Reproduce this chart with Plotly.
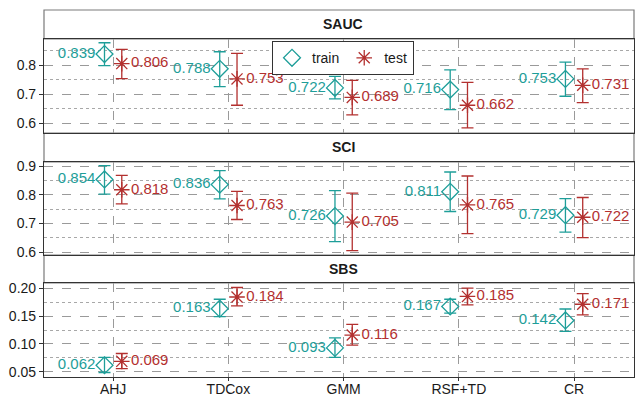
import numpy as np
import plotly.graph_objects as go

categories = ["AHJ", "TDCox", "GMM", "RSF+TD", "CR"]
metrics = ["SAUC", "SCI", "SBS"]

# SAUC
sauc_train = [0.839, 0.788, 0.722, 0.716, 0.753]
sauc_train_lo = [0.799, 0.726, 0.684, 0.647, 0.693]
sauc_train_hi = [0.878, 0.847, 0.762, 0.784, 0.811]
sauc_test = [0.806, 0.753, 0.689, 0.662, 0.731]
sauc_test_lo = [0.754, 0.662, 0.629, 0.584, 0.671]
sauc_test_hi = [0.855, 0.841, 0.748, 0.741, 0.788]

# SCI
sci_train = [0.854, 0.836, 0.726, 0.811, 0.729]
sci_train_lo = [0.803, 0.786, 0.637, 0.742, 0.670]
sci_train_hi = [0.902, 0.885, 0.815, 0.880, 0.787]
sci_test = [0.818, 0.763, 0.705, 0.765, 0.722]
sci_test_lo = [0.769, 0.714, 0.605, 0.665, 0.651]
sci_test_hi = [0.868, 0.812, 0.806, 0.866, 0.791]

# SBS
sbs_train = [0.062, 0.163, 0.093, 0.167, 0.142]
sbs_train_lo = [0.049, 0.149, 0.076, 0.155, 0.1225]
sbs_train_hi = [0.076, 0.180, 0.111, 0.180, 0.1625]
sbs_test = [0.069, 0.184, 0.116, 0.185, 0.171]
sbs_test_lo = [0.056, 0.168, 0.098, 0.170, 0.152]
sbs_test_hi = [0.083, 0.201, 0.135, 0.200, 0.190]

TEAL = "#1e9e99"
RED = "#b3302f"
FONT = "Liberation Sans"

panels = [
    ("SAUC", sauc_train, sauc_train_lo, sauc_train_hi, sauc_test, sauc_test_lo, sauc_test_hi,
     [0.566, 0.891], [0.6, 0.7, 0.8], ["0.6", "0.7", "0.8"], 0.05, 0.6),
    ("SCI", sci_train, sci_train_lo, sci_train_hi, sci_test, sci_test_lo, sci_test_hi,
     [0.59, 0.915], [0.6, 0.7, 0.8, 0.9], ["0.6", "0.7", "0.8", "0.9"], 0.05, 0.6),
    ("SBS", sbs_train, sbs_train_lo, sbs_train_hi, sbs_test, sbs_test_lo, sbs_test_hi,
     [0.041, 0.209], [0.05, 0.10, 0.15, 0.20], ["0.05", "0.10", "0.15", "0.20"], 0.025, 0.05),
]

# pixel layout helpers (figure 637x396)
W, H = 637, 396
ml, mr, mt, mb = 44, 3, 10, 19
ph = H - mt - mb
pw = W - ml - mr
def py(px):
    return (H - mb - px) / ph

plot_px = [(39, 133), (162, 255), (283, 377)]
strip_px = [(10, 39), (133, 162), (255, 283)]

fig = go.Figure()
xi = np.arange(len(categories))
off = 0.075

for k, (name, tr, trl, trh, te, tel, teh, rng, tv, tt, mdt, m0) in enumerate(panels):
    ax = "" if k == 0 else str(k + 1)
    tr = np.array(tr); te = np.array(te)
    fig.add_trace(go.Scatter(
        x=xi - off, y=tr, mode="markers+text",
        text=[f"{v:.3f}" for v in tr], textposition="middle left",
        textfont=dict(color=TEAL, size=15, family=FONT),
        marker=dict(symbol="diamond-open", size=13, color=TEAL, line=dict(width=1.3)),
        error_y=dict(type="data", symmetric=False, array=np.array(trh) - tr,
                     arrayminus=tr - np.array(trl), color=TEAL, thickness=1.3, width=6),
        name="train", legendgroup="train", showlegend=(k == 0),
        xaxis="x" + ax, yaxis="y" + ax, cliponaxis=False,
    ))
    fig.add_trace(go.Scatter(
        x=xi + off, y=te, mode="markers+text",
        text=[f"{v:.3f}" for v in te], textposition="middle right",
        textfont=dict(color=RED, size=15, family=FONT),
        marker=dict(symbol="asterisk-open", size=13, color=RED, line=dict(width=1.3, color=RED)),
        error_y=dict(type="data", symmetric=False, array=np.array(teh) - te,
                     arrayminus=te - np.array(tel), color=RED, thickness=1.3, width=6),
        name="test", legendgroup="test", showlegend=(k == 0),
        xaxis="x" + ax, yaxis="y" + ax, cliponaxis=False,
    ))
    top, bot = plot_px[k]
    yd = [py(bot), py(top)]
    fig.layout["yaxis" + ax] = dict(
        domain=yd, range=rng, tickvals=tv, ticktext=tt, anchor="x" + ax, automargin=False,
        showgrid=True, gridcolor="#9a9a9a", griddash="dash", gridwidth=1,
        zeroline=False, showline=True, mirror=True, linecolor="#333333", linewidth=1.2,
        ticks="outside", ticklen=4, tickcolor="#333333",
        tickfont=dict(size=14, family=FONT, color="#1a1a1a"),
        minor=dict(tick0=m0 + mdt, dtick=2 * mdt, showgrid=True, griddash="dot",
                   gridcolor="#a8a8a8", gridwidth=1, ticks=""),
    )
    fig.layout["xaxis" + ax] = dict(
        domain=[0, 1], range=[-0.6, 4.52], anchor="y" + ax, automargin=False,
        tickvals=list(xi), ticktext=categories if k == 2 else [""] * 5,
        showticklabels=(k == 2),
        showgrid=True, gridcolor="#9a9a9a", griddash="dash", gridwidth=1,
        zeroline=False, showline=True, mirror=True, linecolor="#333333", linewidth=1.2,
        ticks="outside" if k == 2 else "", ticklen=3, tickcolor="#333333",
        ticklabelstandoff=-4,
        tickfont=dict(size=14, family=FONT, color="#1a1a1a"),
    )
    if k != 0:
        fig.layout["xaxis" + ax]["matches"] = "x"
    s0, s1 = strip_px[k]
    fig.add_shape(type="rect", xref="paper", yref="paper", x0=0, x1=1,
                  y0=py(s1), y1=py(s0), line=dict(color="#7a7a7a", width=1.2),
                  fillcolor="white", layer="below")
    fig.add_annotation(text=f"<b>{name}</b>", xref="paper", yref="paper",
                       x=(343 - ml) / pw, y=(py(s0) + py(s1)) / 2,
                       showarrow=False, xanchor="center", yanchor="middle",
                       font=dict(size=14, family=FONT, color="#1a1a1a"))

fig.update_layout(
    width=W, height=H, margin=dict(l=ml, r=mr, t=mt, b=mb, autoexpand=False),
    plot_bgcolor="white", paper_bgcolor="white",
    font=dict(family=FONT, size=14, color="#1a1a1a"),
    legend=dict(orientation="h", x=(343 - ml) / pw, y=py(41),
                xanchor="center", yanchor="top", bgcolor="white",
                bordercolor="#333333", borderwidth=1.2,
                font=dict(size=14, family=FONT, color="#1a1a1a"),
                itemwidth=30, tracegroupgap=0),
)

fig.write_html("out.html", config={"displayModeBar": False},
               post_script="document.body.style.margin='0';document.body.style.overflow='hidden';")
